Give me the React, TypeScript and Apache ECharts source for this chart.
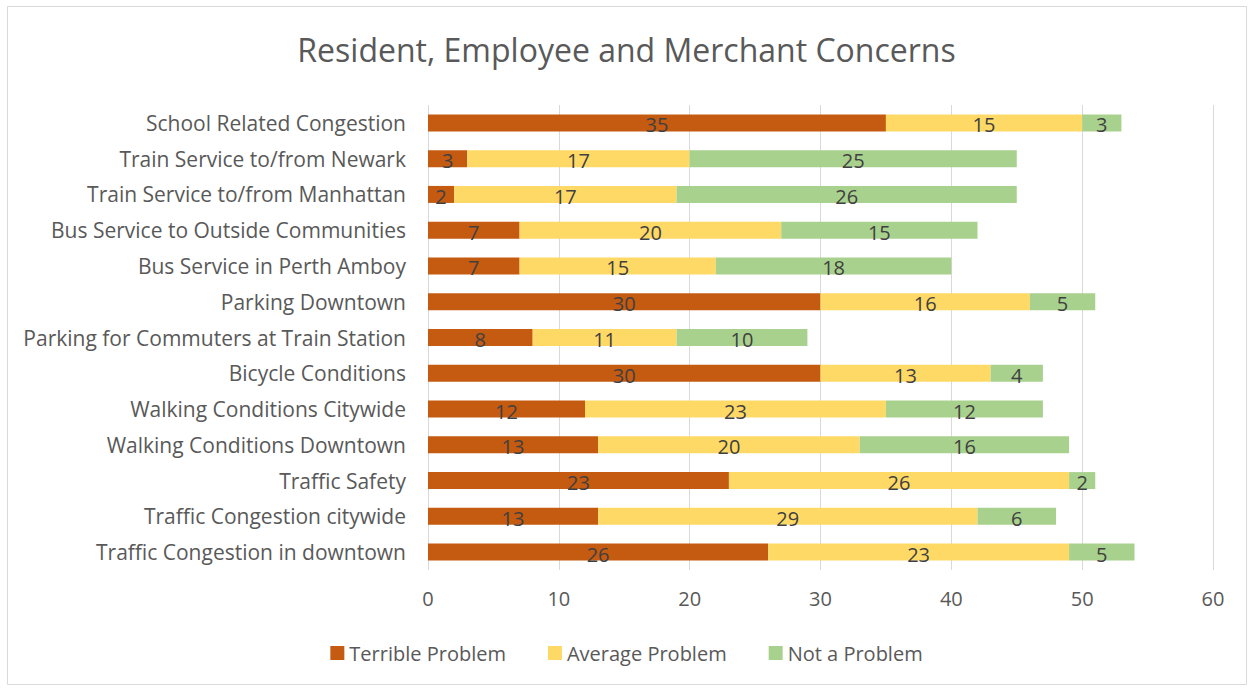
import React, { useEffect, useRef } from "react";
import * as echarts from "echarts";

const categories = [
  "School Related Congestion",
  "Train Service to/from Newark",
  "Train Service to/from Manhattan",
  "Bus Service to Outside Communities",
  "Bus Service in Perth Amboy",
  "Parking Downtown",
  "Parking for Commuters at Train Station",
  "Bicycle Conditions",
  "Walking Conditions Citywide",
  "Walking Conditions Downtown",
  "Traffic Safety",
  "Traffic Congestion citywide",
  "Traffic Congestion in downtown",
];
const terrible = [35, 3, 2, 7, 7, 30, 8, 30, 12, 13, 23, 13, 26];
const average = [15, 17, 17, 20, 15, 16, 11, 13, 23, 20, 26, 29, 23];
const notProblem = [3, 25, 26, 15, 18, 5, 10, 4, 12, 16, 2, 6, 5];
const seriesNames = ["Terrible Problem", "Average Problem", "Not a Problem"];
const colors = ["#C55A11", "#FFD966", "#A9D18E"];

const FONT = "Open Sans";

export default function App() {
  const ref = useRef<HTMLDivElement>(null);
  useEffect(() => {
    document.body.style.margin = "0";
    const chart = echarts.init(ref.current!, null, { renderer: "svg" });
    const data = [terrible, average, notProblem];
    chart.setOption({
      animation: false,
      backgroundColor: "#ffffff",
      textStyle: { fontFamily: FONT },
      title: {
        text: "Resident, Employee and Merchant Concerns",
        left: "center",
        top: 28,
        textStyle: { fontFamily: FONT, fontSize: 32, fontWeight: "normal", color: "#595959" },
      },
      graphic: [
        {
          type: "rect",
          shape: { x: 7.5, y: 6.5, width: 1239, height: 678 },
          style: { fill: "none", stroke: "#d9d9d9", lineWidth: 1 },
          silent: true,
        },
      ],
      legend: {
        bottom: 22,
        left: "center",
        itemWidth: 14,
        itemHeight: 14,
        itemGap: 42,
        icon: "rect",
        textStyle: { fontFamily: FONT, fontSize: 20, color: "#595959" },
        data: seriesNames,
      },
      grid: { left: 428, right: 40, top: 105, bottom: 120, containLabel: false },
      xAxis: {
        type: "value",
        min: 0,
        max: 60,
        interval: 10,
        axisLine: { show: false },
        axisTick: { show: false },
        splitLine: { show: true, lineStyle: { color: "#d9d9d9", width: 1 } },
        axisLabel: { fontFamily: FONT, fontSize: 20, color: "#595959", margin: 18 },
      },
      yAxis: {
        type: "category",
        data: categories,
        inverse: true,
        axisLine: { show: false },
        axisTick: { show: false },
        axisLabel: { fontFamily: FONT, fontSize: 21, color: "#595959", margin: 22 },
      },
      series: seriesNames.map((name, i) => ({
        name,
        type: "bar",
        stack: "total",
        barWidth: 17,
        itemStyle: { color: colors[i] },
        label: {
          show: true,
          position: "inside",
          fontFamily: FONT,
          fontSize: 20,
          color: "#404040",
          offset: [0, 2],
        },
        data: data[i],
      })),
    });
    return () => chart.dispose();
  }, []);
  return <div ref={ref} style={{ width: 1253, height: 690 }} />;
}
